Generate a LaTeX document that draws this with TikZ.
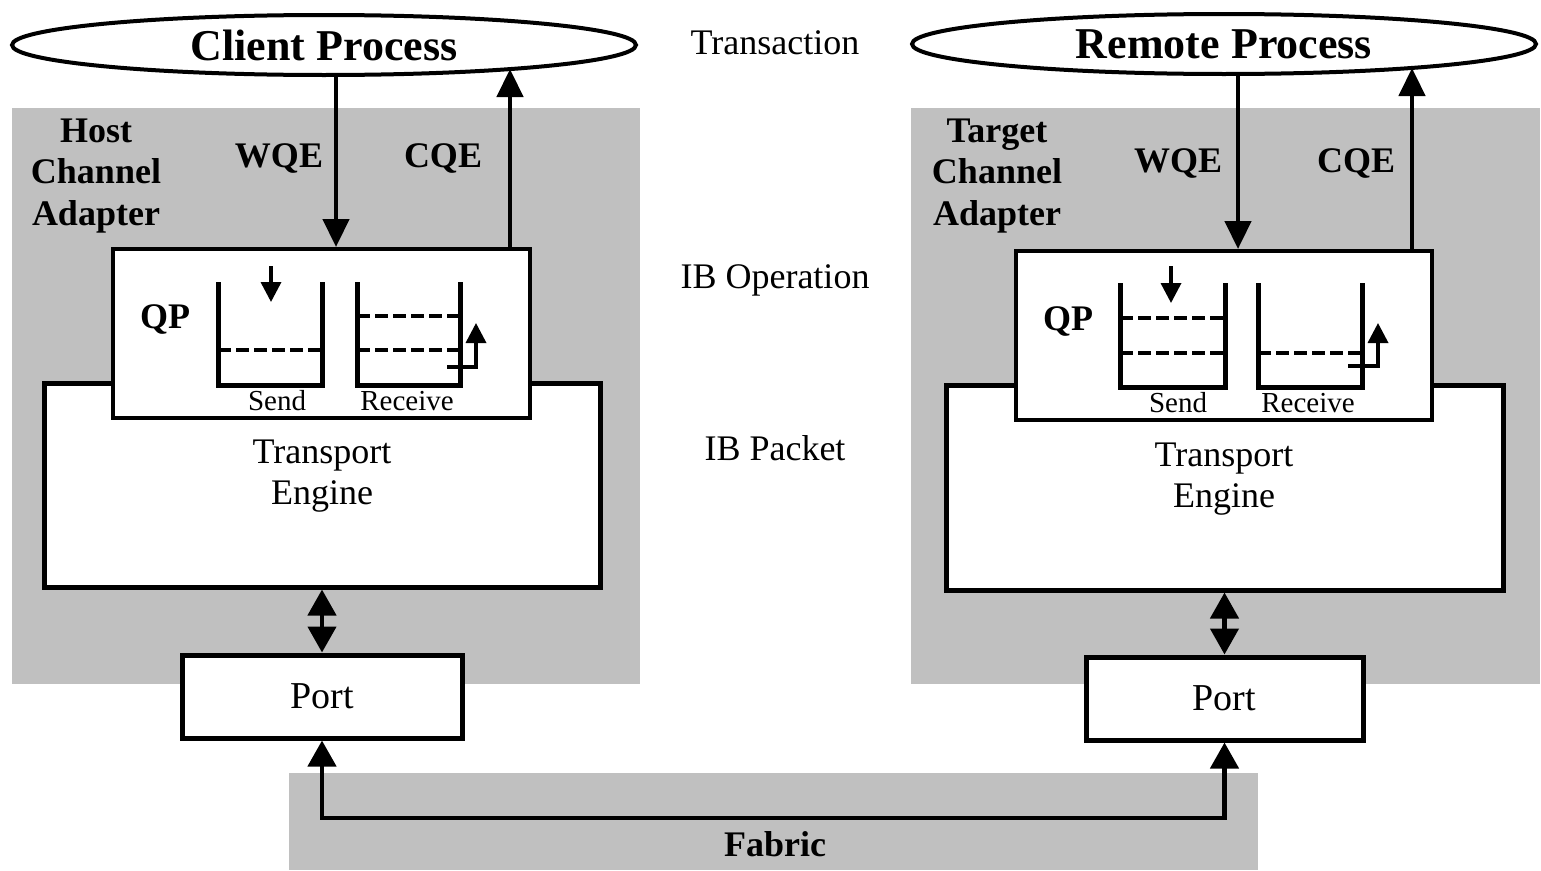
\documentclass[tikz,border=0pt]{standalone}
\usepackage{fontspec}
\setmainfont{Liberation Serif}
\usetikzlibrary{arrows.meta,shapes.geometric}
\definecolor{panelgray}{RGB}{192,192,192}
\begin{document}
\begin{tikzpicture}[x=1pt,y=-1pt,
  panel/.style={fill=panelgray,draw=none,inner sep=0pt},
  proc/.style={ellipse,draw,line width=4pt,fill=white,inner sep=0pt,
    minimum width=624pt,minimum height=60pt,
    font=\fontsize{44}{48}\selectfont\bfseries},
  box/.style={draw,line width=5pt,fill=white,inner sep=0pt},
  portbox/.style={box,font=\fontsize{38}{42}\selectfont},
  qpbox/.style={draw,line width=4pt,fill=white,inner sep=0pt},
  boldlab/.style={font=\fontsize{36}{41.5}\selectfont\bfseries,align=center,inner sep=0pt},
  plainlab/.style={font=\fontsize{36}{41.5}\selectfont,align=center,inner sep=0pt},
  qlab/.style={font=\fontsize{29}{34}\selectfont,inner sep=0pt},
  flow/.style={line width=4.5pt,-{Triangle[width=26pt,length=28pt]}},
  flowboth/.style={line width=4.5pt,{Triangle[width=28pt,length=26pt]}-{Triangle[width=28pt,length=26pt]}},
  queue/.style={line width=5pt,line join=miter},
  qslot/.style={line width=3.5pt,dash pattern=on 13pt off 5pt},
  tick/.style={line width=3.5pt,-{Triangle[width=20pt,length=20pt]}}
]
\useasboundingbox (0,0) rectangle (1541,870);

% grey backgrounds: the two adapters and the fabric
\node[panel,minimum width=628pt,minimum height=576pt] (hca) at (326,396) {};
\node[panel,minimum width=629pt,minimum height=576pt] (tca) at (1225.5,396) {};
\node[panel,minimum width=969pt,minimum height=97pt] (fabbg) at (773.5,821.5) {};

% processes
\node[proc] (cp) at (324,45) {Client Process};
\node[proc] (rp) at (1224,44) {Remote Process};

% left side: transport engine, queue pair, port
\node[box,minimum width=556pt,minimum height=204pt] (teL) at (322,485) {};
\node[qpbox,minimum width=417pt,minimum height=169pt] (qpL) at (321.5,333.5) {};
\node[portbox,minimum width=280pt,minimum height=83pt] (portL) at (322,696.5) {Port};

% right side
\node[box,minimum width=557pt,minimum height=205pt] (teR) at (1224.5,487.5) {};
\node[qpbox,minimum width=416pt,minimum height=169pt] (qpR) at (1224,335.5) {};
\node[portbox,minimum width=277pt,minimum height=83pt] (portR) at (1224.5,698.5) {Port};

% labels
\node[boldlab] (hcaLab) at (96,176) {Host\\Channel\\Adapter};
\node[boldlab] (tcaLab) at (997,176) {Target\\Channel\\Adapter};
\node[boldlab] (wqeLabL) at (279,158) {WQE};
\node[boldlab] (cqeLabL) at (443,158) {CQE};
\node[boldlab] (wqeLabR) at (1178,163) {WQE};
\node[boldlab] (cqeLabR) at (1356,163) {CQE};
\node[boldlab] (qpLabL) at (165,319) {QP};
\node[boldlab] (qpLabR) at (1068,321) {QP};
\node[plainlab] (teLabL) at (322,476) {Transport\\Engine};
\node[plainlab] (teLabR) at (1224,479) {Transport\\Engine};
\node[plainlab] (trans) at (775,43) {Transaction};
\node[plainlab] (ibop) at (775,280) {IB Operation};
\node[plainlab] (ibpk) at (775,448) {IB Packet};
\node[boldlab] (fabLab) at (775,844) {Fabric};
\node[qlab] (sendL) at (277,401) {Send};
\node[qlab] (recvL) at (407,401) {Receive};
\node[qlab] (sendR) at (1178,403) {Send};
\node[qlab] (recvR) at (1308,403) {Receive};

% queues of the left QP
\draw[queue] (218,282) -- (218,385) -- (322,385) -- (322,282);
\draw[qslot] (218,350) -- (322,350);
\draw[queue] (357,282) -- (357,385) -- (460,385) -- (460,282);
\draw[qslot] (357,316) -- (460,316);
\draw[qslot] (357,350) -- (460,350);
\draw[tick] (271,266) -- (271,302);
\draw[tick] (447,367) -- (476,367) -- (476,323);

% queues of the right QP
\draw[queue] (1120,283) -- (1120,387) -- (1225,387) -- (1225,283);
\draw[qslot] (1120,318) -- (1225,318);
\draw[qslot] (1120,353) -- (1225,353);
\draw[queue] (1258,283) -- (1258,387) -- (1362,387) -- (1362,283);
\draw[qslot] (1258,353) -- (1362,353);
\draw[tick] (1171,266) -- (1171,303);
\draw[tick] (1348,366) -- (1378,366) -- (1378,323);

% work and completion queue entries
\coordinate (wqeL) at (336,0);
\coordinate (cqeL) at (510,69);
\coordinate (wqeR) at (1238,0);
\coordinate (cqeR) at (1412,68);
\draw[flow] (cp.south -| wqeL) -- (qpL.north -| wqeL);
\draw[flow] (qpL.north -| cqeL) -- (cqeL);
\draw[flow] (rp.south -| wqeR) -- (qpR.north -| wqeR);
\draw[flow] (qpR.north -| cqeR) -- (cqeR);

% engine <-> port
\draw[flowboth] (teL.south) -- (portL.north);
\draw[flowboth] (teR.south) -- (portR.north);

% fabric link between the ports
\coordinate (fabmid) at (775,818);
\draw[flowboth] (portL.south) |- (fabmid) -| (portR.south);
\end{tikzpicture}
\end{document}
